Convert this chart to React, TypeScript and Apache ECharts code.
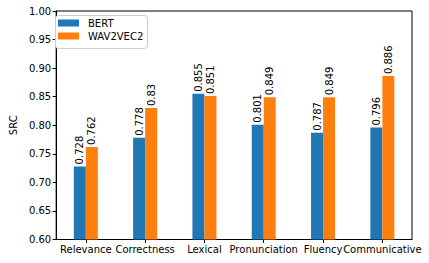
import React, { useEffect, useRef } from "react";
import * as echarts from "echarts";

const categories = ["Relevance", "Correctness", "Lexical", "Pronunciation", "Fluency", "Communicative"];
const bertValues = [0.728, 0.778, 0.855, 0.801, 0.787, 0.796];
const wavValues = [0.762, 0.83, 0.851, 0.849, 0.849, 0.886];
const seriesNames = ["BERT", "WAV2VEC2"];
const yMin = 0.6;
const yMax = 1.0;
const yInterval = 0.05;

const FONT = "DejaVu Sans";

export default function App() {
  const ref = useRef<HTMLDivElement>(null);
  useEffect(() => {
    if (!ref.current) return;
    const chart = echarts.init(ref.current, undefined, { renderer: "svg" });
    const label = {
      show: true,
      position: "top" as const,
      rotate: 90,
      align: "left" as const,
      verticalAlign: "middle" as const,
      distance: 2,
      fontFamily: FONT,
      fontSize: 10,
      color: "#000",
      formatter: (p: any) => String(p.value),
    };
    chart.setOption({
      animation: false,
      backgroundColor: "#fff",
      grid: {
        left: 50,
        right: 17,
        top: 11,
        bottom: 23.5,
        show: true,
        borderColor: "#000",
        borderWidth: 1,
        backgroundColor: "transparent",
      },
      graphic: {
        elements: [
          {
            type: "rect",
            z: 3,
            left: 55,
            top: 15,
            shape: { width: 92, height: 33, r: 3 },
            style: { fill: "#ffffff", stroke: "#cccccc", lineWidth: 1 },
          },
        ],
      },
      legend: {
        show: true,
        orient: "vertical",
        left: 55,
        top: 15,
        z: 5,
        data: seriesNames,
        itemWidth: 21,
        itemHeight: 7,
        itemGap: 3,
        padding: [3, 5, 3, 3],
        icon: "rect",
        textStyle: { fontFamily: FONT, fontSize: 10, color: "#000", padding: [0, 0, 0, 4] },
      },
      xAxis: {
        type: "category",
        data: categories,
        axisLine: { show: true, lineStyle: { color: "#000", width: 1 } },
        axisTick: { show: true, alignWithLabel: true, length: 3.5, lineStyle: { color: "#000" } },
        axisLabel: { fontFamily: FONT, fontSize: 10, color: "#000", margin: 5, interval: 0 },
        splitLine: { show: false },
      },
      yAxis: {
        type: "value",
        min: yMin,
        max: yMax,
        interval: yInterval,
        name: "SRC",
        nameLocation: "middle",
        nameGap: 37,
        nameTextStyle: { fontFamily: FONT, fontSize: 10, color: "#000" },
        axisLine: { show: true, lineStyle: { color: "#000", width: 1 } },
        axisTick: { show: true, length: 3.5, lineStyle: { color: "#000" } },
        axisLabel: {
          fontFamily: FONT,
          fontSize: 10,
          color: "#000",
          margin: 5,
          formatter: (v: number) => v.toFixed(2),
        },
        splitLine: { show: false },
      },
      series: [
        {
          name: seriesNames[0],
          type: "bar",
          data: bertValues,
          barWidth: 12,
          barGap: "0%",
          itemStyle: { color: "#1f77b4" },
          label,
        },
        {
          name: seriesNames[1],
          type: "bar",
          data: wavValues,
          barWidth: 12,
          barGap: "0%",
          itemStyle: { color: "#ff7f0e" },
          label,
        },
      ],
    });
    return () => chart.dispose();
  }, []);
  return <div ref={ref} style={{ width: 429, height: 263, position: "absolute", left: 0, top: 0 }} />;
}
